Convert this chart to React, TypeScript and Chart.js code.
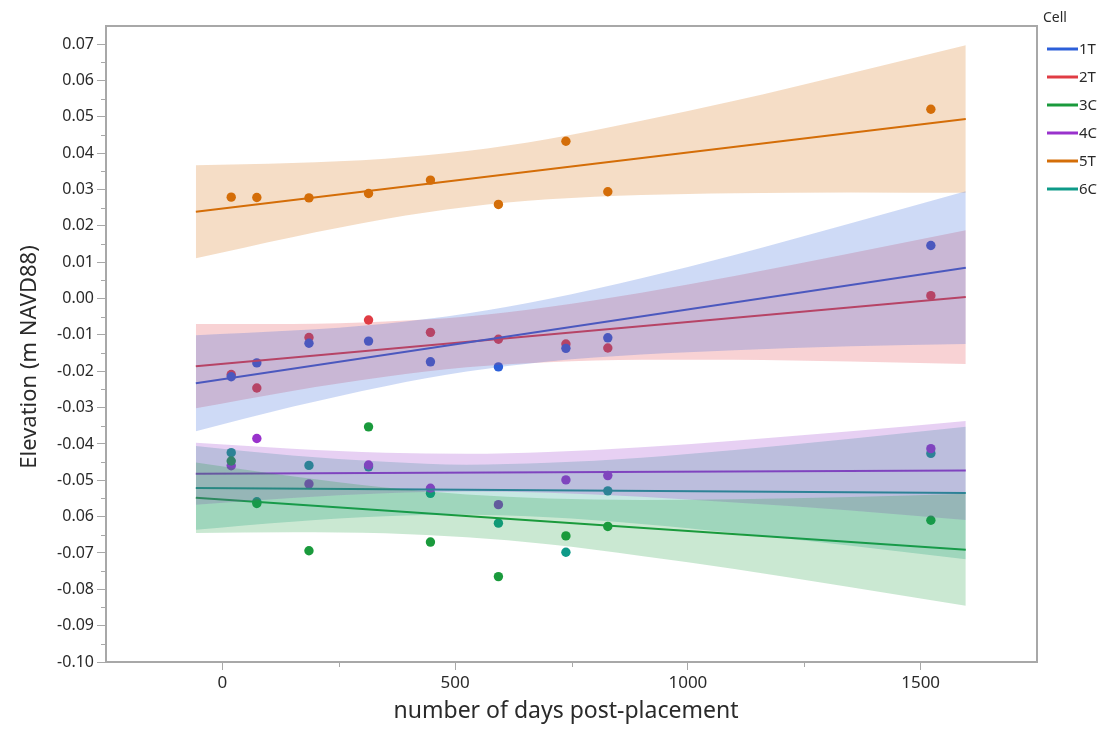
import React, { useEffect, useRef } from "react";
import { Chart, registerables } from "chart.js";

Chart.register(...registerables);

// ---------- data ----------
const CELLS = ["1T", "2T", "3C", "4C", "5T", "6C"];
const COLORS = ["#2c5fd9", "#e03c44", "#1a9a3c", "#9932cc", "#d46e08", "#0e9a88"];
const BAND_RGB = ["44,95,217", "224,60,68", "26,154,60", "153,50,204", "212,110,8", "14,154,136"];

const DAYS = [19, 74, 186, 314, 447, 593, 738, 828, 1522];

const ELEV_1T = [-0.0215, -0.0177, -0.0123, -0.0117, -0.0174, -0.0188, -0.0137, -0.0108, 0.0146];
const ELEV_2T = [-0.0209, -0.0246, -0.0107, -0.0059, -0.0093, -0.0112, -0.0125, -0.0136, 0.0008];
const ELEV_3C = [-0.0447, -0.0564, -0.0694, -0.0353, -0.067, -0.0765, -0.0653, -0.0627, -0.061];
const ELEV_4C = [-0.046, -0.0385, -0.051, -0.0458, -0.0522, -0.0567, -0.0499, -0.0487, -0.0413];
const ELEV_5T = [0.0279, 0.0278, 0.0277, 0.0289, 0.0326, 0.0259, 0.0433, 0.0294, 0.0521];
const ELEV_6C = [-0.0424, -0.0559, -0.0459, -0.0463, -0.0536, -0.0618, -0.0698, -0.0529, -0.0426];

// fitted lines (endpoints)
const FIT_X = [-57, 1597];
const FIT_1T = [-0.0233, 0.0085];
const FIT_2T = [-0.0186, 0.0004];
const FIT_3C = [-0.0548, -0.0691];
const FIT_4C = [-0.0482, -0.0473];
const FIT_5T = [0.0239, 0.0494];
const FIT_6C = [-0.0521, -0.0535];

// confidence bands
const BAND_X = [-57, 150, 350, 525, 700, 900, 1100, 1350, 1597];
const UP_1T = [-0.0101, -0.0088, -0.0069, -0.0041, -0.0001, 0.0056, 0.012, 0.0207, 0.0295];
const LO_1T = [-0.0365, -0.0298, -0.0241, -0.0201, -0.0173, -0.0154, -0.0142, -0.0131, -0.0125];
const UP_2T = [-0.007, -0.007, -0.0063, -0.0049, -0.0023, 0.0016, 0.0062, 0.0125, 0.0188];
const LO_2T = [-0.0302, -0.0254, -0.0215, -0.0189, -0.0175, -0.0168, -0.0168, -0.0173, -0.018];
const UP_3C = [-0.0451, -0.0489, -0.052, -0.0539, -0.055, -0.0554, -0.0552, -0.0546, -0.0537];
const LO_3C = [-0.0645, -0.0643, -0.0646, -0.0657, -0.0676, -0.0708, -0.0744, -0.0794, -0.0845];
const UP_4C = [-0.0397, -0.0413, -0.0424, -0.0427, -0.0422, -0.0409, -0.0391, -0.0365, -0.0337];
const LO_4C = [-0.0567, -0.0549, -0.0536, -0.0531, -0.0534, -0.0545, -0.0561, -0.0583, -0.0609];
const UP_5T = [0.0367, 0.0373, 0.0385, 0.0406, 0.0439, 0.0489, 0.0544, 0.062, 0.0697];
const LO_5T = [0.0111, 0.0169, 0.0219, 0.0252, 0.0273, 0.0285, 0.029, 0.0292, 0.0291];
const UP_6C = [-0.0406, -0.0432, -0.0449, -0.0457, -0.0452, -0.0438, -0.0417, -0.0386, -0.0353];
const LO_6C = [-0.0636, -0.0614, -0.0599, -0.0595, -0.0602, -0.062, -0.0645, -0.068, -0.0717];

const ELEV = [ELEV_1T, ELEV_2T, ELEV_3C, ELEV_4C, ELEV_5T, ELEV_6C];
const FITS = [FIT_1T, FIT_2T, FIT_3C, FIT_4C, FIT_5T, FIT_6C];
const UPS = [UP_1T, UP_2T, UP_3C, UP_4C, UP_5T, UP_6C];
const LOS = [LO_1T, LO_2T, LO_3C, LO_4C, LO_5T, LO_6C];

// axes
const X_TICKS = [0, 500, 1000, 1500];
const X_TICK_LABELS = ["0", "500", "1000", "1500"];
const X_MINOR = [250, 750, 1250];
const Y_TICKS = [-0.1, -0.09, -0.08, -0.07, -0.06, -0.05, -0.04, -0.03, -0.02, -0.01, 0, 0.01, 0.02, 0.03, 0.04, 0.05, 0.06, 0.07];
const Y_TICK_LABELS = ["-0.10", "-0.09", "-0.08", "-0.07", "0.06", "-0.05", "-0.04", "-0.03", "-0.02", "-0.01", "0.00", "0.01", "0.02", "0.03", "0.04", "0.05", "0.06", "0.07"];
const Y_MINOR = [-0.095, -0.085, -0.075, -0.065, -0.055, -0.045, -0.035, -0.025, -0.015, -0.005, 0.005, 0.015, 0.025, 0.035, 0.045, 0.055, 0.065];
const X_TITLE = "number of days post-placement";
const Y_TITLE = "Elevation (m NAVD88)";
const LEGEND_TITLE = "Cell";

const FONT = "'Noto Sans', 'Open Sans', sans-serif";
const AXIS_GRAY = "#a8a8a8";
const TEXT = "#2a2a2a";

const framePlugin = {
  id: "frameAndMinor",
  afterDraw(chart: any) {
    const { ctx, chartArea } = chart;
    const xs = chart.scales.x;
    const ys = chart.scales.y;
    ctx.save();
    ctx.strokeStyle = AXIS_GRAY;
    ctx.lineWidth = 2;
    ctx.beginPath();
    ctx.moveTo(chartArea.left, chartArea.top);
    ctx.lineTo(chartArea.right, chartArea.top);
    ctx.lineTo(chartArea.right, chartArea.bottom);
    ctx.stroke();
    ctx.lineWidth = 1;
    ctx.beginPath();
    Y_MINOR.forEach((v) => {
      const py = Math.round(ys.getPixelForValue(v)) + 0.5;
      ctx.moveTo(chartArea.left - 5, py);
      ctx.lineTo(chartArea.left, py);
    });
    X_MINOR.forEach((v) => {
      const px = Math.round(xs.getPixelForValue(v)) + 0.5;
      ctx.moveTo(px, chartArea.bottom);
      ctx.lineTo(px, chartArea.bottom + 5);
    });
    ctx.stroke();

    // axis titles
    ctx.fillStyle = TEXT;
    ctx.textAlign = "center";
    ctx.textBaseline = "middle";
    ctx.font = `23px ${FONT}`;
    ctx.fillText(X_TITLE, 566, 711);
    ctx.save();
    ctx.translate(30, 357);
    ctx.rotate(-Math.PI / 2);
    ctx.font = `22px ${FONT}`;
    ctx.fillText(Y_TITLE, 0, 0);
    ctx.restore();

    // legend
    ctx.fillStyle = TEXT;
    ctx.font = `14px ${FONT}`;
    ctx.textBaseline = "middle";
    ctx.textAlign = "left";
    ctx.fillText(LEGEND_TITLE, 1043, 18);
    ctx.font = `15px ${FONT}`;
    CELLS.forEach((c, i) => {
      const y = 49 + i * 28;
      ctx.strokeStyle = COLORS[i];
      ctx.lineWidth = 3;
      ctx.beginPath();
      ctx.moveTo(1047, y);
      ctx.lineTo(1078, y);
      ctx.stroke();
      ctx.fillStyle = TEXT;
      ctx.fillText(c, 1079, y + 1);
    });
    ctx.restore();
  },
};

export default function App() {
  const ref = useRef<HTMLCanvasElement>(null);
  useEffect(() => {
    if (!ref.current) return;
    const datasets: any[] = [];
    CELLS.forEach((c, i) => {
      datasets.push({
        label: c + " band upper",
        data: BAND_X.map((x, k) => ({ x, y: UPS[i][k] })),
        borderWidth: 0,
        pointRadius: 0,
        backgroundColor: `rgba(${BAND_RGB[i]},0.23)`,
        borderColor: "rgba(0,0,0,0)",
        fill: "+1",
        cubicInterpolationMode: "monotone",
        order: 0,
      });
      datasets.push({
        label: c + " band lower",
        data: BAND_X.map((x, k) => ({ x, y: LOS[i][k] })),
        borderWidth: 0,
        pointRadius: 0,
        borderColor: "rgba(0,0,0,0)",
        fill: false,
        cubicInterpolationMode: "monotone",
        order: 0,
      });
    });
    CELLS.forEach((c, i) => {
      datasets.push({
        label: c + " fit",
        data: FIT_X.map((x, k) => ({ x, y: FITS[i][k] })),
        borderColor: COLORS[i],
        borderWidth: 2,
        pointRadius: 0,
        fill: false,
        order: 1,
      });
    });
    CELLS.forEach((c, i) => {
      datasets.push({
        label: c,
        data: DAYS.map((x, k) => ({ x, y: ELEV[i][k] })),
        showLine: false,
        pointRadius: 4.7,
        pointBorderWidth: 0,
        pointBackgroundColor: COLORS[i],
        borderColor: COLORS[i],
        backgroundColor: COLORS[i],
        fill: false,
        order: 2,
      });
    });

    const chart = new Chart(ref.current, {
      type: "line",
      data: { datasets },
      options: {
        animation: false,
        responsive: false,
        events: [],
        layout: { padding: { top: 26, right: 73, left: 0, bottom: 0 } },
        plugins: {
          legend: { display: false },
          tooltip: { enabled: false },
        },
        scales: {
          x: {
            type: "linear",
            min: -250,
            max: 1750,
            afterBuildTicks: (s: any) => {
              s.ticks = X_TICKS.map((v) => ({ value: v }));
            },
            afterFit: (s: any) => {
              s.height = 67;
            },
            ticks: {
              callback: (_v: any, i: number) => X_TICK_LABELS[i],
              font: { family: FONT, size: 17 },
              color: TEXT,
              padding: 3,
              maxRotation: 0,
            },
            grid: {
              drawOnChartArea: false,
              tickLength: 8,
              color: AXIS_GRAY,
              tickWidth: 1,
            },
            border: { color: AXIS_GRAY, width: 2 },
            title: { display: false },
          },
          y: {
            type: "linear",
            min: -0.1,
            max: 0.075,
            afterBuildTicks: (s: any) => {
              s.ticks = Y_TICKS.map((v) => ({ value: v }));
            },
            afterFit: (s: any) => {
              s.width = 106;
            },
            ticks: {
              callback: (_v: any, i: number) => Y_TICK_LABELS[i],
              font: { family: FONT, size: 16 },
              color: TEXT,
              padding: 3,
            },
            grid: {
              drawOnChartArea: false,
              tickLength: 9,
              color: AXIS_GRAY,
              tickWidth: 1,
            },
            border: { color: AXIS_GRAY, width: 2 },
            title: { display: false },
          },
        },
      },
      plugins: [framePlugin],
    } as any);
    return () => chart.destroy();
  }, []);

  return (
    <canvas
      ref={ref}
      width={1110}
      height={729}
      style={{ position: "absolute", left: 0, top: 0, width: 1110, height: 729, background: "#fff" }}
    />
  );
}
